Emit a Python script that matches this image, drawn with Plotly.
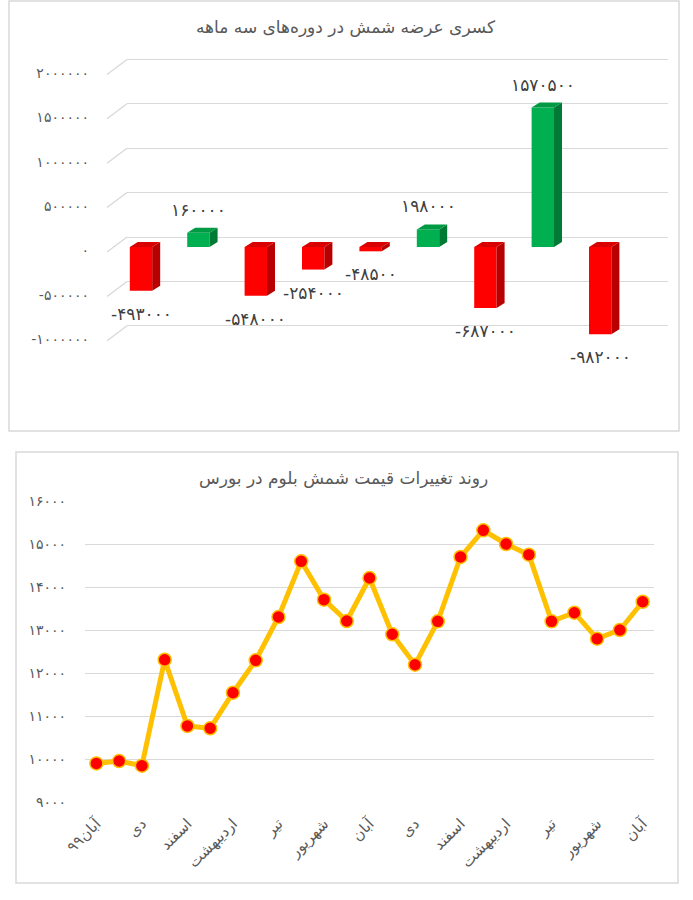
import plotly.graph_objects as go

W, H = 693, 900

# ---------------- data ----------------
# top chart: quarterly supply deficit of steel billets
deficit_values = [-493000, 160000, -548000, -254000, -48500, 198000, -687000, 1570500, -982000]
deficit_ticks = [-1000000, -500000, 0, 500000, 1000000, 1500000, 2000000]

# bottom chart: bloom billet price on the exchange (monthly)
price_values = [9898, 9953, 9844, 12309, 10768, 10714, 11541, 12294, 13302, 14597,
                 13706, 13209, 14209, 12900, 12193, 13201, 14698, 15318, 15000, 14752,
                 13201, 13402, 12799, 13000, 13657]
month_labels = ["آبان۹۹", "دی", "اسفند", "اردیبهشت", "تیر", "شهریور", "آبان",
                "دی", "اسفند", "اردیبهشت", "تیر", "شهریور", "آبان"]
price_ticks = [9000, 10000, 11000, 12000, 13000, 14000, 15000, 16000]

title_top = "کسری عرضه شمش در دوره\u200cهای سه ماهه"
title_bottom = "روند تغییرات قیمت شمش بلوم در بورس"

FA = str.maketrans("0123456789", "۰۱۲۳۴۵۶۷۸۹")


def fa(n):
    return str(n).translate(FA)


FONT = "DejaVu Sans"
GRID = "#d9d9d9"
TXT = "#595959"


def px_x(p):
    return p / W


def px_y(p):
    return 1 - p / H


fig = go.Figure()

# ---------------- top chart geometry ----------------
top_dom_px = (50, 400)          # pixel rows of plot area
k = 88.8 / 1e6                  # pixels per unit value
front_zero = 247                # pixel row of value 0 on front plane
back_zero = 237                 # pixel row of value 0 on back wall
label_zero = 250.5              # pixel row of the "0" tick label


def rng(zero_px):
    return [-(top_dom_px[1] - zero_px) / k, (zero_px - top_dom_px[0]) / k]


ydom_top = [px_y(top_dom_px[1]), px_y(top_dom_px[0])]

slot = 57.4                     # pixels per category
front_left, front_right = 107, 648
x_first = 141
xr0 = -(x_first - front_left) / slot
xr1 = xr0 + (front_right - front_left) / slot

bar_w = 0.39
dx = 8 / slot
dy = 5 / k

# back wall gridlines (subplot xy)
fig.add_trace(go.Scatter(x=[None], y=[None], xaxis="x", yaxis="y", showlegend=False, hoverinfo="skip"))
# tick-label axis for the top chart
fig.add_trace(go.Scatter(x=[None], y=[None], xaxis="x2", yaxis="y4", showlegend=False, hoverinfo="skip"))

# front bars (subplot x2y2)
idx = list(range(len(deficit_values)))
red, green = "#ff0000", "#00b050"
red_side, green_side = "#b80000", "#007a35"
red_top, green_top = "#d80000", "#009a45"

for sign in ("neg", "pos"):
    sel = [i for i in idx if (deficit_values[i] < 0) == (sign == "neg")]
    front_c = red if sign == "neg" else green
    side_c = red_side if sign == "neg" else green_side
    top_c = red_top if sign == "neg" else green_top
    fig.add_trace(go.Bar(
        x=sel, y=[deficit_values[i] for i in sel], width=bar_w,
        marker=dict(color=front_c, line=dict(width=0)),
        xaxis="x2", yaxis="y2", showlegend=False, hoverinfo="skip"))
    sx, sy, tx, ty = [], [], [], []
    for i in sel:
        v = deficit_values[i]
        hi, lo = max(v, 0), min(v, 0)
        r = i + bar_w / 2
        l = i - bar_w / 2
        sx += [r, r, r + dx, r + dx, r, None]
        sy += [hi, lo, lo + dy, hi + dy, hi, None]
        tx += [l, r, r + dx, l + dx, l, None]
        ty += [hi, hi, hi + dy, hi + dy, hi, None]
    fig.add_trace(go.Scatter(x=sx, y=sy, fill="toself", fillcolor=side_c, mode="lines",
                             line=dict(width=0, color=side_c), xaxis="x2", yaxis="y2",
                             showlegend=False, hoverinfo="skip"))
    fig.add_trace(go.Scatter(x=tx, y=ty, fill="toself", fillcolor=top_c, mode="lines",
                             line=dict(width=0, color=top_c), xaxis="x2", yaxis="y2",
                             showlegend=False, hoverinfo="skip"))

annotations = []
for i, v in zip(idx, deficit_values):
    annotations.append(dict(
        x=i, y=v, xref="x2", yref="y2", text=fa(v), showarrow=False,
        yanchor="middle", yshift=23 if v > 0 else -23,
        font=dict(family=FONT, size=17, color="#404040")))

# floor diagonals joining front labels to back gridlines
shapes = []
for t in deficit_ticks:
    shapes.append(dict(type="line", xref="paper", yref="y",
                       x0=px_x(front_left), x1=px_x(127), y0=t - 15 / k, y1=t,
                       line=dict(color=GRID, width=1.3)))

# ---------------- bottom chart ----------------
px_idx = list(range(len(price_values)))
fig.add_trace(go.Scatter(
    x=px_idx, y=price_values, mode="lines+markers",
    line=dict(color="#ffc000", width=5),
    marker=dict(color="#ff0000", size=13, line=dict(color="#ffc000", width=1.5)),
    xaxis="x3", yaxis="y3", showlegend=False, hoverinfo="skip"))

annotations.append(dict(x=px_x(346), y=px_y(27), xref="paper", yref="paper", text=title_top,
                        showarrow=False, xanchor="center", yanchor="middle",
                        font=dict(family=FONT, size=17, color=TXT)))
annotations.append(dict(x=px_x(343), y=px_y(478), xref="paper", yref="paper", text=title_bottom,
                        showarrow=False, xanchor="center", yanchor="middle",
                        font=dict(family=FONT, size=17, color=TXT)))

shapes.append(dict(type="rect", xref="paper", yref="paper", x0=px_x(9), x1=px_x(679),
                   y0=px_y(431), y1=px_y(1), line=dict(color=GRID, width=1.5)))
shapes.append(dict(type="rect", xref="paper", yref="paper", x0=px_x(16), x1=px_x(678),
                   y0=px_y(883), y1=px_y(452), line=dict(color=GRID, width=1.5)))

fig.update_layout(
    width=W, height=H, margin=dict(l=0, r=0, t=0, b=0, pad=0, autoexpand=False),
    paper_bgcolor="white", plot_bgcolor="rgba(0,0,0,0)",
    font=dict(family=FONT, color=TXT),
    barmode="overlay",
    xaxis=dict(domain=[px_x(127), px_x(668)], range=[0, 1], visible=False, fixedrange=True,
               automargin=False),
    yaxis=dict(domain=ydom_top, range=rng(back_zero), anchor="x", showgrid=True, gridcolor=GRID,
               gridwidth=1.3, tickvals=deficit_ticks, showticklabels=False, zeroline=False,
               showline=False, ticks="", automargin=False),
    xaxis2=dict(domain=[px_x(front_left), px_x(front_right)], range=[xr0, xr1], visible=False,
                anchor="y2", automargin=False),
    yaxis2=dict(domain=ydom_top, range=rng(front_zero), anchor="x2", showgrid=False, zeroline=False,
                showticklabels=False, showline=False, ticks="", automargin=False),
    yaxis4=dict(overlaying="y2", anchor="x2", side="left", range=rng(label_zero),
                showgrid=False, zeroline=False,
                tickvals=deficit_ticks, ticktext=[fa(t) for t in deficit_ticks],
                tickfont=dict(family=FONT, size=14, color=TXT), ticklabelstandoff=17,
                showline=False, ticks="", automargin=False),
    xaxis3=dict(domain=[px_x(85), px_x(654)], range=[-0.5, len(price_values) - 0.5], anchor="y3",
                tickvals=px_idx[::2], ticktext=month_labels, tickangle=-45,
                tickfont=dict(family=FONT, size=15, color=TXT), showgrid=False, zeroline=False,
                showline=False, ticks="", ticklabelstandoff=9, automargin=False),
    yaxis3=dict(domain=[px_y(802), px_y(501)], range=[9000, 16000], anchor="x3",
                tickvals=price_ticks, ticktext=[fa(t) for t in price_ticks],
                tickfont=dict(family=FONT, size=14, color=TXT), gridcolor=GRID, gridwidth=1.3,
                zeroline=False, showline=False, ticks="", ticklabelstandoff=18, automargin=False),
    annotations=annotations, shapes=shapes,
)

fig.write_html("out.html", config={"displayModeBar": False},
               post_script="document.body.style.margin='0';")
